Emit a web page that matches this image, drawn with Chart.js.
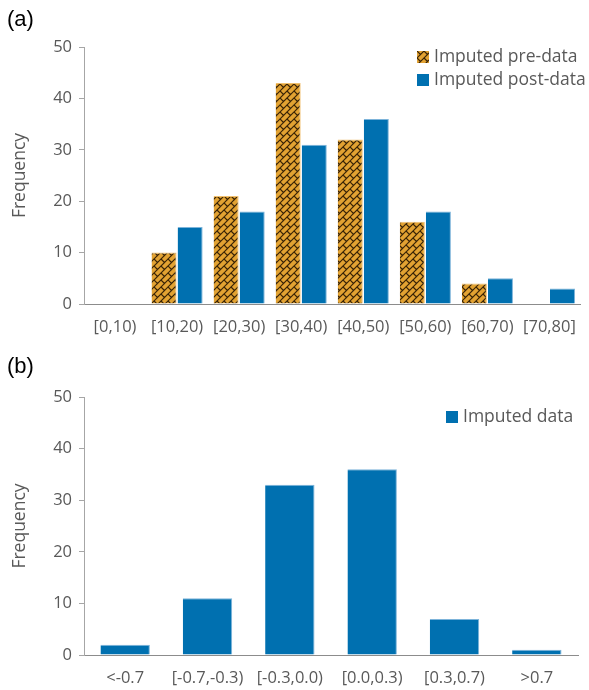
<!DOCTYPE html>
<html>
<head>
<meta charset="utf-8">
<script src="https://cdn.jsdelivr.net/npm/chart.js@4.4.1/dist/chart.umd.min.js"></script>
<style>
  html, body { margin: 0; padding: 0; background: #fff; }
  body { width: 589px; height: 690px; position: relative; overflow: hidden; font-family: "Open Sans", sans-serif; }
  .panel { position: absolute; left: 0; width: 589px; }
  .tag { position: absolute; font-family: "Liberation Sans", Arial, sans-serif; font-size: 22px; color: #000; line-height: 26px; }
  .leg { position: absolute; font-size: 17.5px; color: #595959; line-height: 22px; white-space: nowrap; }
  .leg .sw { display: inline-block; width: 12px; height: 12px; vertical-align: -1px; margin-right: 5px; }
</style>
</head>
<body>
<div class="panel" style="top:0;height:340px;"><canvas id="ca" width="589" height="340"></canvas></div>
<div class="panel" style="top:340px;height:350px;"><canvas id="cb" width="589" height="350"></canvas></div>
<div class="tag" style="left:7px;top:6px;">(a)</div>
<div class="tag" style="left:7px;top:353px;">(b)</div>
<div class="leg" style="left:417px;top:44px;"><canvas id="swA" class="sw" width="12" height="12"></canvas>Imputed pre-data</div>
<div class="leg" style="left:417px;top:67px;"><span class="sw" style="background:#0070B0;"></span>Imputed post-data</div>
<div class="leg" style="left:446px;top:404px;"><span class="sw" style="background:#0070B0;"></span>Imputed data</div>
<script>
// ---- data ----
const ageCategories = ["[0,10)", "[10,20)", "[20,30)", "[30,40)", "[40,50)", "[50,60)", "[60,70)", "[70,80]"];
const preData = [0, 10, 21, 43, 32, 16, 4, 0];
const postData = [0, 15, 18, 31, 36, 18, 5, 3];
const diffCategories = ["<-0.7", "[-0.7,-0.3)", "[-0.3,0.0)", "[0.0,0.3)", "[0.3,0.7)", ">0.7"];
const imputedData = [2, 11, 33, 36, 7, 1];
const yTicks = [0, 10, 20, 30, 40, 50];

// ---- shingle pattern ----
function makePattern() {
  const T = 14, H = 7;
  const c = document.createElement('canvas');
  c.width = T; c.height = T;
  const g = c.getContext('2d');
  g.fillStyle = '#E2A232';
  g.fillRect(0, 0, T, T);
  g.strokeStyle = '#3a2406';
  g.lineWidth = 1.2;
  g.lineCap = 'round';
  g.beginPath();
  for (let k = -T; k <= 3 * T; k += H) { g.moveTo(k + 2, -2); g.lineTo(k - T - 2, T + 2); }
  const q = H / 2;
  const segs = [[0,0,q,q],[H,0,H+q,q],[H,H,H+q,H+q],[0,H,q,H+q]];
  for (const [x1,y1,x2,y2] of segs) {
    for (const dx of [-T, 0, T]) for (const dy of [-T, 0, T]) {
      g.moveTo(x1+dx, y1+dy); g.lineTo(x2+dx, y2+dy);
    }
  }
  g.stroke();
  return c;
}
const patCanvas = makePattern();
const ctxA = document.getElementById('ca').getContext('2d');
const pattern = ctxA.createPattern(patCanvas, 'repeat');
const sw = document.getElementById('swA').getContext('2d');
sw.fillStyle = sw.createPattern(patCanvas, 'repeat');
sw.fillRect(0, 0, 12, 12);

const BLUE = '#0070B0';
const tickFont = { family: '"Open Sans", sans-serif', size: 16.5 };
const tickColor = '#595959';

function yScale(width) {
  return {
    min: 0, max: 50,
    afterBuildTicks: s => { s.ticks = yTicks.map(v => ({ value: v })); },
    afterFit: s => { s.width = width; },
    grid: { drawOnChartArea: false, drawTicks: true, tickLength: 5, color: '#A6A6A6' },
    border: { display: true, color: '#A6A6A6', width: 1 },
    ticks: { font: tickFont, color: tickColor, padding: 7 },
    title: { display: true, text: 'Frequency', font: { family: '"Open Sans", sans-serif', size: 17.5 }, color: tickColor, padding: { top: 10, bottom: 0 } }
  };
}
function xScale(height, pad) {
  return {
    afterFit: s => { s.height = height; },
    grid: { display: false, drawTicks: false },
    border: { display: true, color: '#8C8C8C', width: 1 },
    ticks: { font: tickFont, color: tickColor, padding: pad, maxRotation: 0, autoSkip: false }
  };
}

new Chart(ctxA, {
  type: 'bar',
  data: {
    labels: ageCategories,
    datasets: [
      { label: 'Imputed pre-data', data: preData, backgroundColor: pattern, borderColor: '#F0C070', borderWidth: { top: 1, left: 0, right: 1, bottom: 0 }, borderSkipped: 'bottom', barPercentage: 0.96, categoryPercentage: 0.84 },
      { label: 'Imputed post-data', data: postData, backgroundColor: BLUE, borderColor: '#7DB4DA', borderWidth: { top: 1, left: 0, right: 1, bottom: 0 }, borderSkipped: 'bottom', barPercentage: 0.96, categoryPercentage: 0.84 }
    ]
  },
  options: {
    responsive: false, animation: false,
    layout: { padding: { top: 47, right: 2, left: 0, bottom: 0 } },
    plugins: { legend: { display: false }, tooltip: { enabled: false } },
    scales: { x: xScale(36, 13), y: yScale(84) }
  }
});

new Chart(document.getElementById('cb').getContext('2d'), {
  type: 'bar',
  data: {
    labels: diffCategories,
    datasets: [
      { label: 'Imputed data', data: imputedData, backgroundColor: BLUE, borderColor: '#7DB4DA', borderWidth: { top: 1, left: 0, right: 1, bottom: 0 }, borderSkipped: 'bottom', barPercentage: 0.6, categoryPercentage: 1.0 }
    ]
  },
  options: {
    responsive: false, animation: false,
    layout: { padding: { top: 57, right: 11, left: 0, bottom: 0 } },
    plugins: { legend: { display: false }, tooltip: { enabled: false } },
    scales: { x: xScale(35, 13), y: yScale(84) }
  }
});
</script>
</body>
</html>
